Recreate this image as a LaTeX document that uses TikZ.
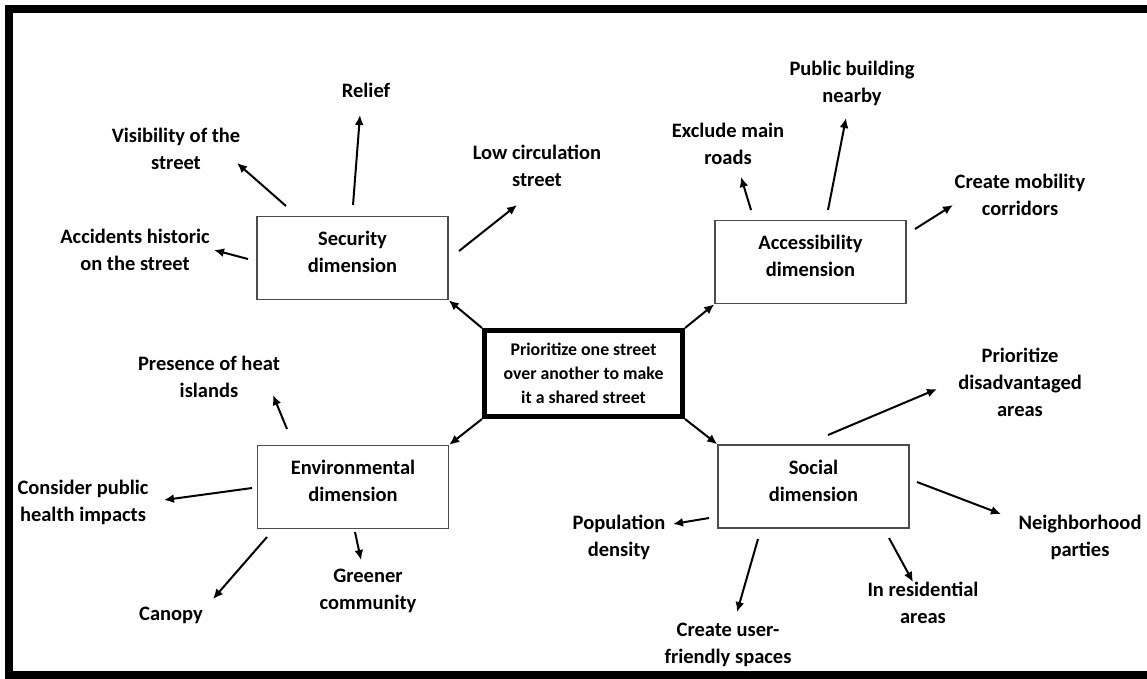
\documentclass[tikz,border=0pt]{standalone}
\usepackage{fontspec}
\setmainfont{Carlito}
\usetikzlibrary{arrows.meta}

\tikzset{
  dimbox/.style={draw=black!70, line width=1.5pt, minimum width=191pt, minimum height=83pt,
    inner sep=0pt, align=center, text depth=12pt, font=\bfseries\fontsize{20.5}{27}\selectfont},
  mainbox/.style={draw=black, line width=5pt, minimum width=198pt, minimum height=86pt,
    inner sep=0pt, align=center, font=\bfseries\fontsize{17.8}{24}\selectfont},
  leaf/.style={inner sep=0pt, align=center, font=\bfseries\fontsize{20.5}{27}\selectfont},
  link/.style={line width=2pt, -{Latex[length=10pt,width=9pt]}}
}

\begin{document}
\begin{tikzpicture}[x=1pt,y=-1pt]
\useasboundingbox (0,0) rectangle (1147,678);
\clip (0,0) rectangle (1147,678);
% frame
\draw[line width=8pt] (1160,9) -- (9,9) -- (9,675) -- (1160,675);

% central box and dimensions
\node[mainbox] (ctr) at (583.5,373.5) {Prioritize one street\\over another to make\\it a shared street};
\node[dimbox] (sec) at (352.5,258) {Security\\dimension};
\node[dimbox] (acc) at (810.5,262) {Accessibility\\dimension};
\node[dimbox] (env) at (353,487) {Environmental\\dimension};
\node[dimbox] (soc) at (813.5,486.5) {Social\\dimension};

\draw[link] (ctr.north west) -- (sec.south east);
\draw[link] (ctr.north east) -- (acc.south west);
\draw[link] (ctr.south west) -- (env.north east);
\draw[link] (ctr.south east) -- (soc.north west);

% security
\node[leaf] (relief) at (366,90) {Relief};
\node[leaf] (vis) at (176,149) {Visibility of the\\street};
\node[leaf] (hist) at (135,250) {Accidents historic\\on the street};
\node[leaf] (lowcirc) at (537,166) {Low circulation\\street};
\draw[link] ([shift={(0.5,-53)}]sec.center) -- ([shift={(-6,25)}]relief.center);
\draw[link] ([shift={(-66.5,-52)}]sec.center) -- ([shift={(61,14)}]vis.center);
\draw[link] ([shift={(-104.5,1)}]sec.center) -- ([shift={(79,0)}]hist.center);
\draw[link] ([shift={(106.5,-7)}]sec.center) -- ([shift={(-20,39)}]lowcirc.center);

% accessibility
\node[leaf] (excl) at (728,144) {Exclude main\\roads};
\node[leaf] (pub) at (852,83) {Public building\\nearby};
\node[leaf] (mob) at (1020,195) {Create mobility\\corridors};
\draw[link] ([shift={(-59.5,-52)}]acc.center) -- ([shift={(13,33)}]excl.center);
\draw[link] ([shift={(17.5,-52)}]acc.center) -- ([shift={(-6,35)}]pub.center);
\draw[link] ([shift={(104.5,-33)}]acc.center) -- ([shift={(-67,10)}]mob.center);

% environmental
\node[leaf] (heat) at (209,377) {Presence of heat\\islands};
\node[leaf] (health) at (83,502) {Consider public\\health impacts};
\node[leaf] (canopy) at (171,615) {Canopy};
\node[leaf] (green) at (368,591) {Greener\\community};
\draw[link] ([shift={(-66,-58)}]env.center) -- ([shift={(64,18)}]heat.center);
\draw[link] ([shift={(-101,1)}]env.center) -- ([shift={(81,-2)}]health.center);
\draw[link] ([shift={(-86,50)}]env.center) -- ([shift={(42,-16)}]canopy.center);
\draw[link] ([shift={(2,45)}]env.center) -- ([shift={(-7,-31)}]green.center);

% social
\node[leaf] (disadv) at (1020,382) {Prioritize\\disadvantaged\\areas};
\node[leaf] (neigh) at (1080,537) {Neighborhood\\parties};
\node[leaf] (resid) at (923,603) {In residential\\areas};
\node[leaf] (popul) at (619,537) {Population\\density};
\node[leaf] (userfr) at (728,645) {Create user-\\friendly spaces};
\draw[link] ([shift={(14.5,-51.5)}]soc.center) -- ([shift={(-83,7)}]disadv.center);
\draw[link] ([shift={(103.5,-4.5)}]soc.center) -- ([shift={(-79,-23)}]neigh.center);
\draw[link] ([shift={(75.5,51.5)}]soc.center) -- ([shift={(-10,-21)}]resid.center);
\draw[link] ([shift={(-104.5,31.5)}]soc.center) -- ([shift={(54,-13)}]popul.center);
\draw[link] ([shift={(-55.5,52.5)}]soc.center) -- ([shift={(9,-33)}]userfr.center);
\end{tikzpicture}
\end{document}
